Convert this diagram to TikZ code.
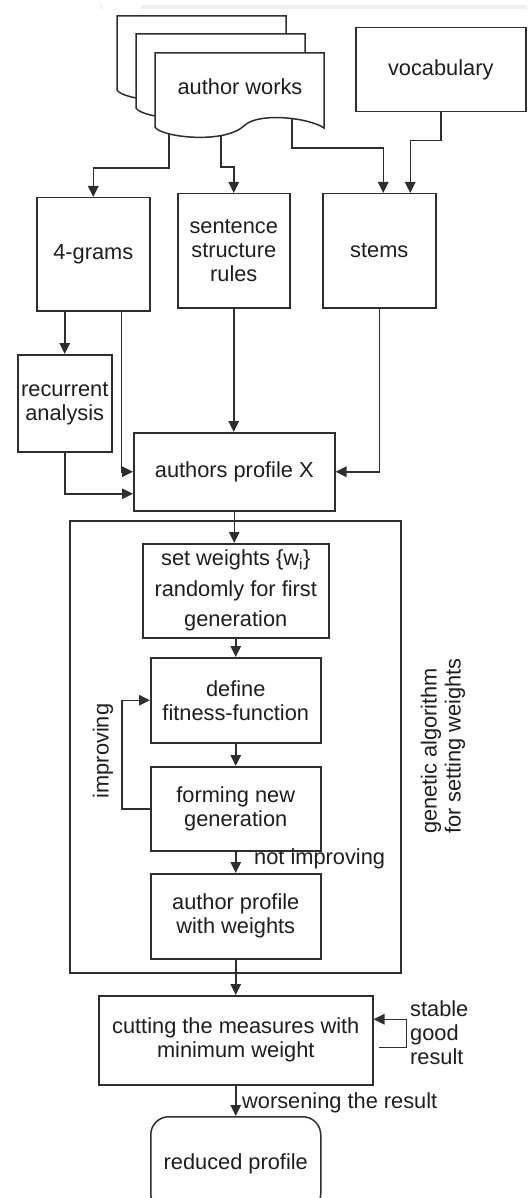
\documentclass[tikz,border=0pt]{standalone}
\usepackage{fontspec}
\setmainfont{Liberation Sans}
\usetikzlibrary{arrows.meta,positioning}
\definecolor{ink}{HTML}{1E1E1E}
\definecolor{edge}{HTML}{2E2E2E}
\tikzset{
  line/.style={draw=edge, line width=1.5pt},
  arr/.style={line, -{Triangle[length=11pt,width=10.5pt]}},
  lbl/.style={text=ink, font=\fontsize{21.8pt}{24pt}\selectfont, inner sep=0pt},
  box/.style={line, lbl, align=center, anchor=north west, fill=white},
  docsheet/.pic={
    \path[line, fill=white] (0,74) -- (0,0) -- (169,0) -- (169,75)
      .. controls (155,65) and (105,59) .. (90,72)
      .. controls (70,92) and (5,84) .. (0,74) -- cycle;
  }
}
\begin{document}
\begin{tikzpicture}[x=1pt,y=-1pt]
\useasboundingbox (0,0) rectangle (527,1198);
\clip (0,0) rectangle (527,1198);

% thin grey strip along the top edge
\fill[gray!12] (141,5) rectangle (527,9);
\fill[gray!20] (100.5,5) rectangle (101.5,9);

% outer frame of the genetic algorithm
\node[line, minimum width=331, minimum height=452, anchor=north west, inner sep=0] (ga) at (69,520) {};

% process boxes
\node[box, minimum width=170, minimum height=84] (vocab) at (355,27) {vocabulary};
\node[box, minimum width=113, minimum height=113] (grams) at (36,197) {4-grams};
\node[box, minimum width=112, minimum height=114] (sent) at (177,193) {sentence\\structure\\rules};
\node[box, minimum width=113, minimum height=114] (stems) at (322,193) {stems};
\node[box, minimum width=94, minimum height=97] (recur) at (17,354) {recurrent\\analysis};
\node[box, minimum width=201, minimum height=78] (prof) at (133,432) {authors profile X};
\node[box, minimum width=186, minimum height=94, font=\fontsize{21.8pt}{30.5pt}\selectfont] (setw) at (142,543)
  {set weights \{w\textsubscript{i}\}\\randomly for first\\generation};
\node[box, minimum width=170, minimum height=85] (fit) at (150,657) {define\\fitness-function};
\node[box, minimum width=170, minimum height=84] (form) at (150,766) {forming new\\generation};
\node[box, minimum width=170, minimum height=85] (apw) at (150,873) {author profile\\with weights};
\node[box, minimum width=274, minimum height=89] (cut) at (98,995) {cutting the measures with\\minimum weight};
\node[box, minimum width=170, minimum height=95, rounded corners=18pt] (red) at (150,1116) {reduced profile};

% points on the lower edge of the document stack
\coordinate (w1) at (169,112);
\coordinate (w2) at (221,112);
\coordinate (w3) at (292,112);

% connectors leaving the documents and the vocabulary
\draw[arr] (w1) -- (169,168) -| (grams.north);
\draw[arr] (w2) -- (221,167) -| (sent.north);
\draw[arr] (w3) -- (292,148) -| ([xshift=4pt]stems.north);
\draw[arr] (vocab.south) -- ++(0,28) -| ([xshift=31pt]stems.north);

% the stack of author works
\pic at (117,16) {docsheet};
\pic at (136,34) {docsheet};
\pic at (155,53) {docsheet};
\node[lbl] (works) at (240,87) {author works};

% feature extraction into the profile
\draw[arr] (recur.north |- grams.south) -- (recur.north);
\draw[arr] ([xshift=28pt]grams.south) |- (prof.west);
\draw[arr] (recur.south) |- ([yshift=-22pt]prof.west);
\draw[arr] (sent.south) -- (sent.south |- prof.north);
\draw[arr] (stems.south) |- (prof.east);

% genetic algorithm
\draw[arr] (prof.south) -- (prof.south |- setw.north);
\draw[arr] (setw.south) -- (fit.north);
\draw[arr] (fit.south) -- (form.north);
\draw[arr] (form.west) -- ++(-28,0) |- (fit.west);
\node[lbl, rotate=90] (impr) at (103,751) {improving};
\draw[arr] (form.south) -- (apw.north);
\node[lbl, anchor=west] (notimpr) at (254,859) {not improving};
\node[lbl, rotate=90, align=left] (galbl) at (443,746) {genetic algorithm\\for setting weights};

% reduction stage
\draw[arr] (apw.south) -- (cut.north);
\draw[arr] ([xshift=5pt,yshift=-7pt]cut.east) -- ++(28,0) |- ([yshift=21pt]cut.east);
\node[lbl, anchor=west, align=left] (stable) at (410,1033) {stable\\good\\result};
\draw[arr] (cut.south) -- (red.north);
\node[lbl, anchor=west] (worse) at (242,1103) {worsening the result};
\end{tikzpicture}
\end{document}
